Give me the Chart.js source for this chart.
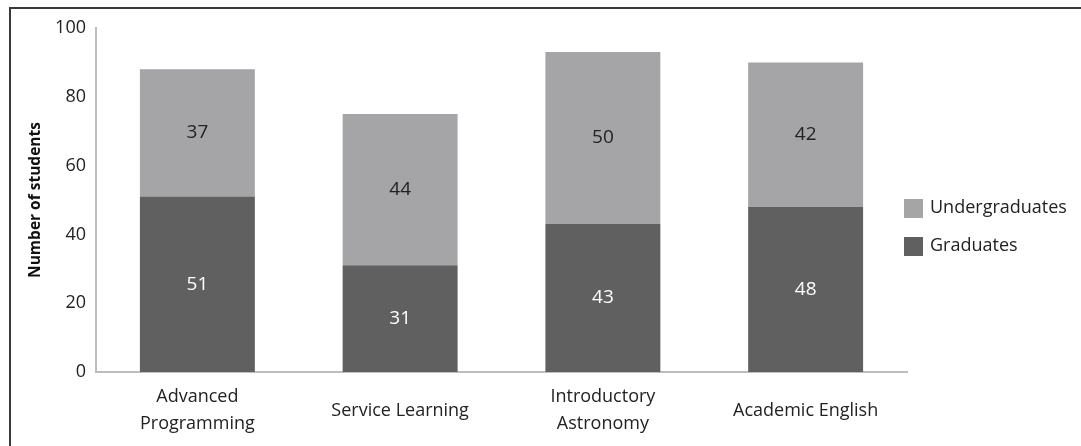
<!DOCTYPE html>
<html><head><meta charset="utf-8">
<script src="https://cdn.jsdelivr.net/npm/chart.js@4/dist/chart.umd.min.js"></script>
<style>
html,body{margin:0;padding:0;background:#fff;}
#wrap{position:relative;width:1081px;height:446px;}
#frame{position:absolute;left:9px;top:7px;right:0;bottom:0;border-top:2px solid #3a3a3a;border-left:2px solid #3a3a3a;pointer-events:none;}
canvas{position:absolute;left:0;top:0;}
</style></head>
<body><div id="wrap"><canvas id="c" width="1081" height="446"></canvas><div id="frame"></div></div>
<script>
const categories = [["Advanced","Programming"], "Service Learning", ["Introductory","Astronomy"], "Academic English"];
const graduates = [51, 31, 43, 48];
const undergraduates = [37, 44, 50, 42];
const yTicks = [0, 20, 40, 60, 80, 100];
const FONT = "'Open Sans', 'Liberation Sans', sans-serif";

const valueLabels = {
  id: 'valueLabels',
  afterDatasetsDraw(chart) {
    const ctx = chart.ctx;
    ctx.save();
    ctx.font = "19px " + FONT;
    ctx.textAlign = 'center';
    ctx.textBaseline = 'middle';
    chart.data.datasets.forEach((ds, di) => {
      const meta = chart.getDatasetMeta(di);
      meta.data.forEach((bar, i) => {
        const yc = (bar.y + bar.base) / 2;
        ctx.fillStyle = ds.labelColor;
        ctx.fillText(String(ds.data[i]), bar.x, yc);
      });
    });
    ctx.restore();
  }
};

const sideLegend = {
  id: 'sideLegend',
  afterDraw(chart) {
    const ctx = chart.ctx;
    ctx.save();
    ctx.font = "18px " + FONT;
    ctx.textBaseline = 'middle';
    ctx.textAlign = 'left';
    const items = chart.data.datasets.slice().reverse();
    items.forEach((ds, k) => {
      const y = 208 + k * 38;
      ctx.fillStyle = ds.backgroundColor;
      ctx.fillRect(904, y - 9, 19, 19);
      ctx.fillStyle = '#222';
      ctx.fillText(ds.label, 930, y);
    });
    ctx.restore();
  }
};

new Chart(document.getElementById('c'), {
  type: 'bar',
  data: {
    labels: categories,
    datasets: [
      { label: 'Graduates', data: graduates, backgroundColor: '#606060', labelColor: '#ffffff', barPercentage: 0.567, categoryPercentage: 1.0 },
      { label: 'Undergraduates', data: undergraduates, backgroundColor: '#a5a5a7', labelColor: '#222222', barPercentage: 0.567, categoryPercentage: 1.0 }
    ]
  },
  options: {
    responsive: false,
    animation: false,
    devicePixelRatio: 1,
    layout: { padding: { left: 0, right: 174, top: 28, bottom: 0 } },
    plugins: { legend: { display: false }, tooltip: { enabled: false } },
    scales: {
      x: {
        stacked: true,
        grid: { display: false, drawTicks: false },
        border: { display: true, color: '#bdbdbd', width: 2 },
        ticks: { color: '#222', font: { family: FONT, size: 18, lineHeight: 1.5 }, padding: 25, maxRotation: 0, autoSkip: false, crossAlign: 'center' },
        afterFit(s) { s.height = 74; }
      },
      y: {
        stacked: true,
        min: 0, max: 100,
        afterBuildTicks(s) { s.ticks = yTicks.map(v => ({ value: v })); },
        grid: { display: false, drawTicks: false },
        border: { display: true, color: '#bdbdbd', width: 2 },
        ticks: { color: '#222', font: { family: FONT, size: 18 }, padding: 10 },
        title: { display: true, text: 'Number of students', color: '#111', font: { family: FONT, size: 15.5, weight: 'bold' }, padding: { top: 26, bottom: 0 } },
        afterFit(s) { s.width = 96; }
      }
    }
  },
  plugins: [valueLabels, sideLegend]
});
</script></body></html>
